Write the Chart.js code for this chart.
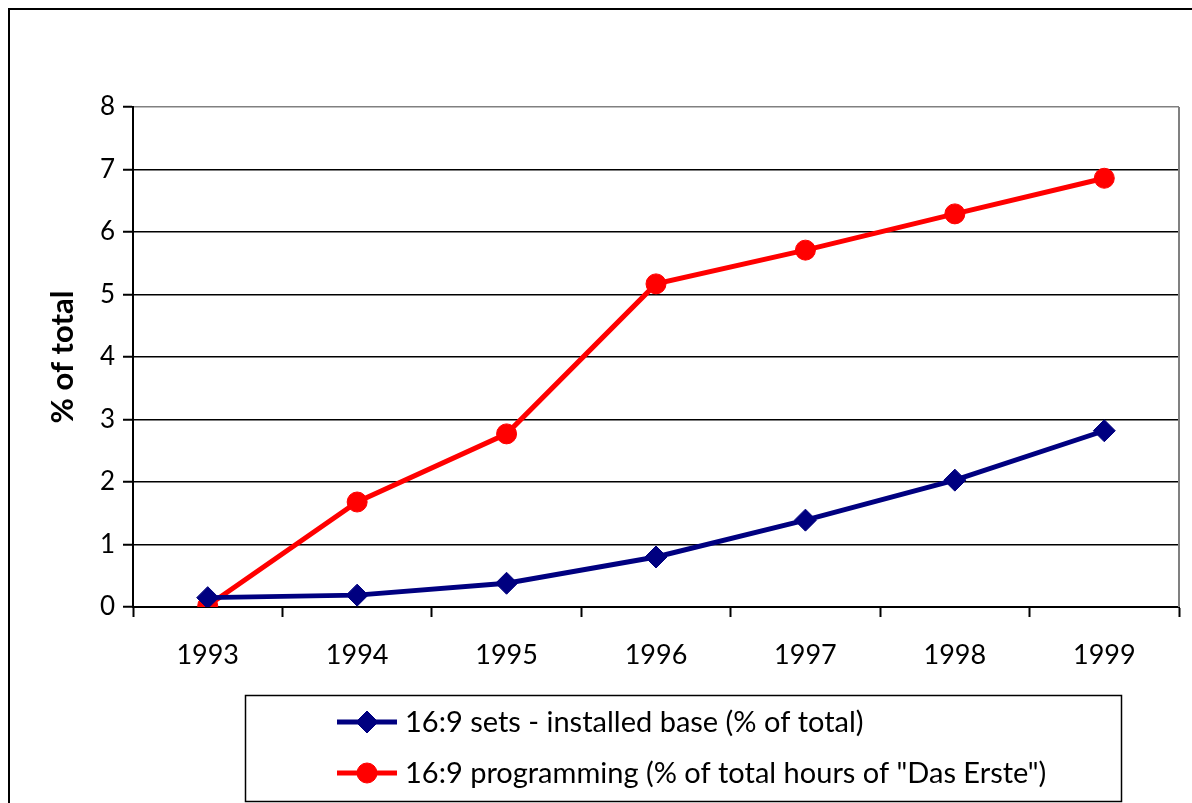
<!DOCTYPE html>
<html lang="en">
<head>
    <meta charset="UTF-8">
    <title>16:9 sets and programming</title>
    <script src="https://cdn.jsdelivr.net/npm/chart.js"></script>
    <style>
        html, body { margin: 0; padding: 0; background: #fff; }
        #wrap { position: relative; width: 1192px; height: 803px; }
    </style>
</head>
<body>
    <div id="wrap"><canvas id="chart" width="1192" height="803"></canvas></div>

    <script>
        // data
        const years = ['1993', '1994', '1995', '1996', '1997', '1998', '1999'];
        const setsBase = [0.15, 0.19, 0.38, 0.80, 1.39, 2.03, 2.82];
        const programming = [0.02, 1.68, 2.77, 5.17, 5.71, 6.29, 6.86];
        const seriesNames = ['16:9 sets - installed base (% of total)', '16:9 programming (% of total hours of "Das Erste")'];
        const yTicks = [0, 1, 2, 3, 4, 5, 6, 7, 8];

        const FONT = 'Lato, "Open Sans", sans-serif';

        // frame, right border of plot area and boxed legend
        const decor = {
            id: 'decor',
            afterDraw(chart) {
                const c = chart.ctx;
                const a = chart.chartArea;
                c.save();
                c.strokeStyle = '#000';
                c.lineWidth = 2;
                c.beginPath();
                c.moveTo(9, 803);
                c.lineTo(9, 9);
                c.lineTo(1192, 9);
                c.stroke();

                c.strokeStyle = '#808080';
                c.lineWidth = 2;
                c.beginPath();
                c.moveTo(a.right, a.top);
                c.lineTo(a.right, a.bottom);
                c.stroke();

                // legend box
                c.strokeStyle = '#000';
                c.lineWidth = 1.5;
                c.strokeRect(245.5, 695.5, 876, 106);
                const rows = [722, 773];
                chart.data.datasets.forEach((ds, i) => {
                    const y = rows[i];
                    c.strokeStyle = ds.borderColor;
                    c.lineWidth = ds.borderWidth;
                    c.beginPath();
                    c.moveTo(337, y);
                    c.lineTo(397, y);
                    c.stroke();
                    c.fillStyle = ds.pointBackgroundColor;
                    c.strokeStyle = ds.pointBackgroundColor;
                    c.lineWidth = 1;
                    if (Chart.helpers && Chart.helpers.drawPoint) {
                        Chart.helpers.drawPoint(c, { pointStyle: ds.pointStyle, radius: ds.pointRadius, rotation: 0, borderWidth: 1 }, 367, y);
                    }
                    c.fillStyle = '#000';
                    c.font = '29px ' + FONT;
                    c.textBaseline = 'middle';
                    c.textAlign = 'left';
                    c.fillText(ds.label, 405, y + 1);
                });
                c.restore();
            }
        };

        new Chart(document.getElementById('chart'), {
            type: 'line',
            data: {
                labels: years,
                datasets: [{
                    label: seriesNames[0],
                    data: setsBase,
                    borderColor: '#000080',
                    borderWidth: 5,
                    pointStyle: 'rectRot',
                    pointRadius: 11,
                    pointBackgroundColor: '#000080',
                    pointBorderColor: '#000080',
                    pointBorderWidth: 1,
                    tension: 0
                }, {
                    label: seriesNames[1],
                    data: programming,
                    borderColor: '#ff0000',
                    borderWidth: 5,
                    pointStyle: 'circle',
                    pointRadius: 10,
                    pointBackgroundColor: '#ff0000',
                    pointBorderColor: '#ff0000',
                    pointBorderWidth: 1,
                    tension: 0
                }]
            },
            options: {
                responsive: false,
                animation: false,
                layout: { padding: { left: 40, top: 107, right: 13, bottom: 0 } },
                plugins: {
                    legend: { display: false },
                    tooltip: { enabled: false }
                },
                scales: {
                    x: {
                        offset: true,
                        grid: {
                            offset: true,
                            drawOnChartArea: false,
                            drawTicks: true,
                            tickLength: 10,
                            tickColor: '#000',
                            tickWidth: 2
                        },
                        border: { color: '#000', width: 2 },
                        ticks: { color: '#000', padding: 22, font: { family: FONT, size: 27 } },
                        afterFit(s) { s.height = 196; }
                    },
                    y: {
                        min: 0,
                        max: 8,
                        afterBuildTicks(s) { s.ticks = yTicks.map(v => ({ value: v })); },
                        grid: {
                            color: ctx => ctx.tick && ctx.tick.value === 8 ? '#808080' : '#000',
                            lineWidth: 1.5,
                            tickLength: 10,
                            tickColor: '#000',
                            tickWidth: 2
                        },
                        border: { color: '#000', width: 2 },
                        ticks: { color: '#000', padding: 8, font: { family: FONT, size: 26 } },
                        title: {
                            display: true,
                            text: '% of total',
                            color: '#000',
                            font: { family: FONT, size: 31, weight: 'bold' }
                        },
                        afterFit(s) { s.width = 93; }
                    }
                }
            },
            plugins: [decor]
        });
    </script>
</body>
</html>
